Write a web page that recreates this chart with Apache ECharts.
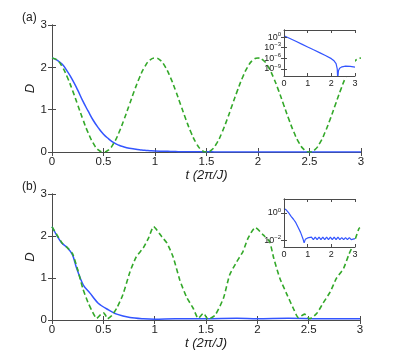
<!DOCTYPE html>
<html><head><meta charset="utf-8">
<script src="https://cdn.jsdelivr.net/npm/echarts@6/dist/echarts.min.js"></script>
<style>html,body{margin:0;padding:0;background:#fff}#c{width:398px;height:359px}</style>
</head><body><div id="c"></div>
<script>
// ---- data ----
var xTicks = [0, 0.5, 1, 1.5, 2, 2.5, 3];
var yTicks = [0, 1, 2, 3];

// panel (a) main
var tA = [0,0.05,0.1,0.15,0.2,0.25,0.3,0.35,0.4,0.45,0.5,0.55,0.6,0.65,0.7,0.75,0.8,0.85,0.9,0.95,
          1,1.05,1.1,1.15,1.2,1.25,1.3,1.35,1.4,1.45,1.5,1.55,1.6,1.65,1.7,1.75,1.8,1.85,1.9,1.95,
          2,2.05,2.1,2.15,2.2,2.25,2.3,2.35,2.4,2.45,2.5,2.55,2.6,2.65,2.7,2.75,2.8,2.85,2.9,2.95,3];
var greenA = [2.22,2.17,2.01,1.76,1.45,1.11,0.77,0.46,0.21,0.05,0,0.05,0.21,0.46,0.77,1.11,1.45,1.76,2.01,2.17,
              2.22,2.17,2.01,1.76,1.45,1.11,0.77,0.46,0.21,0.05,0,0.05,0.21,0.46,0.77,1.11,1.45,1.76,2.01,2.17,
              2.22,2.17,2.01,1.76,1.45,1.11,0.77,0.46,0.21,0.05,0,0.05,0.21,0.46,0.77,1.11,1.45,1.76,2.01,2.17,2.22];
var blueA  = [2.22,2.17,2.07,1.90,1.70,1.46,1.20,0.97,0.75,0.57,0.42,0.31,0.22,0.16,0.12,0.09,0.07,0.055,0.04,0.032,
              0.025,0.02,0.017,0.013,0.01,0.008,0.007,0.006,0.005,0.004,0.003,0.003,0.002,0.002,0.001,0.001,0.001,0,0,0,
              0,0,0,0,0,0,0,0,0,0,0,0,0,0,0,0,0,0,0,0,0];

// panel (a) inset (log scale)
var tIA = [0,0.25,0.5,0.75,1,1.25,1.5,1.75,2,2.1,2.2,2.25,2.27,2.3,2.35,2.45,2.6,2.8,3.0];
var vIA = [2.5,0.4,0.063,0.01,1.6e-3,2.5e-4,4e-5,6e-6,8e-7,2.5e-7,3.2e-8,1e-9,1e-12,3.2e-10,1.6e-9,4e-9,6.3e-9,5e-9,3.2e-9];
var insetATicks = [1, 1e-3, 1e-6, 1e-9];

// panel (b) main
var tGB = [0,0.05,0.1,0.15,0.2,0.25,0.3,0.35,0.385,0.435,0.47,0.5,0.52,0.54,0.58,0.63,0.69,0.76,0.82,0.89,0.94,0.99,
           1.07,1.12,1.18,1.245,1.31,1.375,1.425,1.475,1.52,1.59,1.67,1.73,1.8,1.86,1.91,1.98,
           2.06,2.12,2.16,2.22,2.29,2.35,2.4,2.46,2.51,2.58,2.64,2.71,2.77,2.84,2.89,2.94,2.99,3.0];
var greenB = [2.22,2.02,1.83,1.72,1.58,1.2,0.75,0.42,0.24,0.04,0.12,0.17,0.12,0.03,0.1,0.28,0.6,1.15,1.5,1.72,1.95,2.22,
              1.98,1.83,1.5,0.95,0.55,0.28,0.04,0.16,0.02,0.12,0.52,1.07,1.39,1.63,1.95,2.2,
              2.02,1.86,1.47,0.99,0.6,0.28,0.06,0.14,0.03,0.16,0.4,0.67,0.99,1.23,1.55,1.83,2.18,2.2];
var tBB = [0,0.05,0.1,0.15,0.2,0.24,0.305,0.37,0.45,0.55,0.63,0.76,0.89,1.0,1.2,1.5,1.8,2.0,2.3,2.6,3.0];
var blueB = [2.22,2.0,1.82,1.72,1.55,1.23,0.83,0.64,0.40,0.24,0.14,0.06,0.03,0.02,0.03,0.03,0.04,0.03,0.04,0.03,0.03];

// panel (b) inset (log scale)
var tIB = [0,0.1,0.2,0.3,0.4,0.5,0.6,0.7,0.8,0.85,0.9,0.95,1.0,1.08,1.16,1.24,1.32,1.4,1.48,1.56,1.64,1.72,1.8,1.88,1.96,
           2.04,2.12,2.2,2.28,2.36,2.44,2.52,2.6,2.68,2.76,2.84,2.92,3.0];
var vIB = [2.1,1.6,1.0,0.56,0.35,0.2,0.089,0.04,0.014,0.007,0.0126,0.01,0.016,0.012,0.018,0.012,0.018,0.012,0.018,0.012,0.018,0.012,0.018,0.012,0.018,
           0.012,0.018,0.012,0.018,0.012,0.017,0.012,0.017,0.012,0.017,0.012,0.016,0.014];
var insetBTicks = [1, 1e-2];

function pairs(t, v) { return t.map(function (x, i) { return [x, v[i]]; }); }

// ---- styling ----
var FONT = 'Liberation Sans';
var BLUE = '#3355ff', GREEN = '#33a829', AX = '#4a4a4a';

function mainX(grid) {
  return [{
    gridIndex: grid, type: 'value', min: 0, max: 3, interval: 0.5,
    axisLine: {show: true, lineStyle: {color: AX, width: 1}},
    axisTick: {inside: true, length: 4, lineStyle: {color: AX}},
    splitLine: {show: false},
    axisLabel: {fontFamily: FONT, fontSize: 11.5, color: '#222', margin: 4},
    name: 't (2π/J)', nameLocation: 'middle', nameGap: 17, nameMoveOverlap: false,
    nameTextStyle: {fontFamily: FONT, fontSize: 13, fontStyle: 'italic', color: '#222'}
  }, {
    gridIndex: grid, type: 'value', min: 0, max: 3, interval: 0.5, position: 'top',
    axisLine: {show: true, lineStyle: {color: AX, width: 1}},
    axisTick: {inside: true, length: 4, lineStyle: {color: AX}},
    splitLine: {show: false}, axisLabel: {show: false}
  }];
}
function mainY(grid) {
  return [{
    gridIndex: grid, type: 'value', min: 0, max: 3, interval: 1,
    axisLine: {show: true, lineStyle: {color: AX, width: 1}},
    axisTick: {inside: true, length: 4, lineStyle: {color: AX}},
    splitLine: {show: false},
    axisLabel: {fontFamily: FONT, fontSize: 11.5, color: '#222', margin: 5},
    name: 'D', nameLocation: 'middle', nameGap: 15, nameMoveOverlap: false,
    nameTextStyle: {fontFamily: FONT, fontSize: 13, fontStyle: 'italic', color: '#222'}
  }, {
    gridIndex: grid, type: 'value', min: 0, max: 3, interval: 1, position: 'right',
    axisLine: {show: true, lineStyle: {color: AX, width: 1}},
    axisTick: {inside: true, length: 4, lineStyle: {color: AX}},
    splitLine: {show: false}, axisLabel: {show: false}
  }];
}
function insetX(grid) {
  return [{
    gridIndex: grid, type: 'value', min: 0, max: 3, interval: 1, z: 12,
    axisLine: {show: true, lineStyle: {color: AX, width: 1}},
    axisTick: {inside: true, length: 3, lineStyle: {color: AX}},
    splitLine: {show: false},
    axisLabel: {fontFamily: FONT, fontSize: 9, color: '#222', margin: 3}
  }, {
    gridIndex: grid, type: 'value', min: 0, max: 3, interval: 1, position: 'top', z: 12,
    axisLine: {show: true, lineStyle: {color: AX, width: 1}},
    axisTick: {inside: true, length: 3, lineStyle: {color: AX}},
    splitLine: {show: false}, axisLabel: {show: false}
  }];
}
function expLabel(v) {
  var e = Math.round(Math.log10(v));
  return '10{s|' + (e < 0 ? '\u2212' + (-e) : e) + '}';
}
function insetY(grid, mn, mx, ticks) {
  return [{
    gridIndex: grid, type: 'log', logBase: 10, min: mn, max: mx, z: 12,
    axisLine: {show: true, lineStyle: {color: AX, width: 1}},
    axisTick: {inside: true, length: 3, lineStyle: {color: AX}, customValues: ticks},
    splitLine: {show: false}, minorTick: {show: false},
    axisLabel: {fontFamily: FONT, fontSize: 9, color: '#222', margin: 3, customValues: ticks,
      formatter: expLabel,
      rich: {s: {fontFamily: FONT, fontSize: 6, verticalAlign: 'top', padding: [0, 0, 6, 0]}}}
  }, {
    gridIndex: grid, type: 'log', logBase: 10, min: mn, max: mx, position: 'right', z: 12,
    axisLine: {show: true, lineStyle: {color: AX, width: 1}},
    axisTick: {inside: true, length: 3, lineStyle: {color: AX}, customValues: ticks},
    splitLine: {show: false}, minorTick: {show: false}, axisLabel: {show: false, customValues: ticks}
  }];
}

var xAxes = [].concat(mainX(0), insetX(1), mainX(2), insetX(3));
var yAxes = [].concat(mainY(0), insetY(1, 1e-11, 1e2, insetATicks), mainY(2), insetY(3, Math.pow(10, -2.45), 10, insetBTicks));

var option = {
  animation: false,
  backgroundColor: '#fff',
  grid: [
    {left: 52, right: 37, top: 25, height: 127},
    {left: 284, right: 43, top: 30, height: 46, show: true, backgroundColor: '#fff', borderWidth: 0, z: 10},
    {left: 52, right: 38, top: 194, height: 126},
    {left: 284, right: 43, top: 199, height: 48, show: true, backgroundColor: '#fff', borderWidth: 0, z: 10}
  ],
  xAxis: xAxes,
  yAxis: yAxes,
  graphic: [
    {type: 'text', left: 22, top: 12, style: {text: '(a)', font: '12px "Liberation Sans"', fill: '#222'}},
    {type: 'text', left: 22, top: 181, style: {text: '(b)', font: '12px "Liberation Sans"', fill: '#222'}}
  ],
  series: [
    {type: 'line', xAxisIndex: 0, yAxisIndex: 0, data: pairs(tA, blueA), showSymbol: false, smooth: true,
      lineStyle: {color: BLUE, width: 1.5}, z: 2},
    {type: 'line', xAxisIndex: 0, yAxisIndex: 0, data: pairs(tA, greenA), showSymbol: false, smooth: true,
      lineStyle: {color: GREEN, width: 1.6, type: [5, 3]}, z: 3},
    {type: 'line', xAxisIndex: 2, yAxisIndex: 2, data: pairs(tIA, vIA), showSymbol: false,
      lineStyle: {color: BLUE, width: 1.2}, z: 11},
    {type: 'line', xAxisIndex: 4, yAxisIndex: 4, data: pairs(tBB, blueB), showSymbol: false, smooth: 0.3,
      lineStyle: {color: BLUE, width: 1.5}, z: 2},
    {type: 'line', xAxisIndex: 4, yAxisIndex: 4, data: pairs(tGB, greenB), showSymbol: false, smooth: 0.2,
      lineStyle: {color: GREEN, width: 1.6, type: [5, 3]}, z: 3},
    {type: 'line', xAxisIndex: 6, yAxisIndex: 6, data: pairs(tIB, vIB), showSymbol: false,
      lineStyle: {color: BLUE, width: 1.2}, z: 11}
  ]
};
var chart = echarts.init(document.getElementById('c'), null, {renderer: 'canvas'});
chart.setOption(option);
</script>
</body></html>
